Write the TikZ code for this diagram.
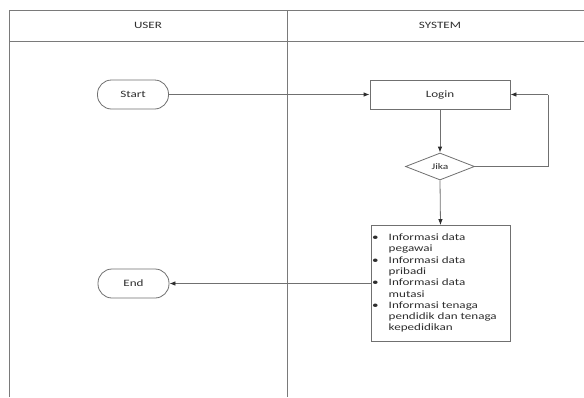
\documentclass[tikz,border=0pt]{standalone}
\usepackage{fontspec}
\setmainfont{Carlito}[FakeStretch=1.35]
\usetikzlibrary{arrows.meta,shapes.geometric}
\definecolor{framegray}{HTML}{7A7A7A}
\definecolor{linegray}{HTML}{707070}
\definecolor{inkgray}{HTML}{2E2E2E}
\begin{document}
\begin{tikzpicture}[x=1pt,y=-1pt,
  lane/.style={draw=framegray,line width=0.9pt},
  flow/.style={draw=linegray,line width=0.8pt,
    -{Latex[length=6pt,width=4.5pt,color=inkgray,fill=inkgray]}},
  plain/.style={draw=linegray,line width=0.8pt},
  lbl/.style={text=inkgray,font=\fontsize{9.7pt}{11pt}\selectfont,inner sep=0pt},
  term/.style={lbl,draw=linegray,line width=0.8pt,rounded corners=14pt,
    minimum width=71pt,minimum height=29pt},
  procbox/.style={lbl,draw=linegray,line width=0.8pt,minimum width=140pt,minimum height=29pt},
  decision/.style={lbl,diamond,draw=linegray,line width=0.8pt,
    minimum width=69pt,minimum height=27pt,font=\fontsize{8.5pt}{10pt}\selectfont},
]
\useasboundingbox[fill=white] (0,0) rectangle (584,397);

% swimlane frame
\draw[lane] (9,397) -- (9,10) -- (584,10);
\draw[lane] (9,41) -- (584,41);
\draw[lane] (287,10) -- (287,397);
\node[lbl] (userlbl) at (148,25.5) {USER};
\node[lbl] (syslbl) at (440,25.5) {SYSTEM};

% flow elements
\node[term] (start) at (133,94.5) {Start};
\node[procbox] (login) at (440,94.5) {Login};
\node[decision] (jika) at (440,166.5) {Jika};
\node[draw=linegray,line width=0.8pt,minimum width=139pt,minimum height=116pt,inner sep=0pt]
  (info) at (440.5,283.5) {};
\node[term] (end) at (133.5,283.5) {End};

% list inside the result box
\node[lbl,anchor=base west,font=\fontsize{9.7pt}{11.3pt}\selectfont] (infotext) at (372,240.5)
{\begin{tabular}[t]{@{}l@{\hspace{10pt}}l@{}}
\textbullet & Informasi data\\
            & pegawai\\
\textbullet & Informasi data\\
            & pribadi\\
\textbullet & Informasi data\\
            & mutasi\\
\textbullet & Informasi tenaga\\
            & pendidik dan tenaga\\
            & kepedidikan
\end{tabular}};

% connectors
\coordinate (loopr) at (548,94.5);
\draw[flow] (start.east) -- (login.west);
\draw[flow] (login.south) -- (jika.north);
\draw[plain] (jika.east) -| (loopr);
\draw[flow] (loopr) -- (login.east);
\draw[flow] (jika.south) -- (info.north);
\draw[flow] (info.west) -- (end.east);
\end{tikzpicture}
\end{document}
